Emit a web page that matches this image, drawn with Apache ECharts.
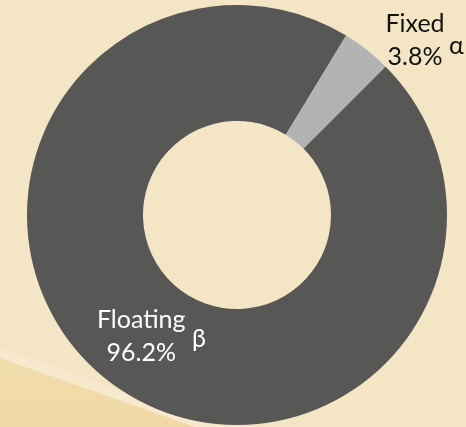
<!DOCTYPE html>
<html>
<head>
<meta charset="utf-8">
<style>
  html, body { margin: 0; padding: 0; background: #F4E6C5; }
  #chart { width: 466px; height: 427px; }
</style>
<script src="https://cdn.jsdelivr.net/npm/echarts@6/dist/echarts.min.js"></script>
</head>
<body>
<div id="chart"></div>
<script>
// Rate type split
const categories = ['Floating', 'Fixed'];
const shares = [96.2, 3.8];
const symbols = ['β', 'α'];
const sliceColors = ['#575756', '#B3B3B3'];

const chart = echarts.init(document.getElementById('chart'), null, { renderer: 'canvas' });

const FONT = 'Lato, "Open Sans", sans-serif';

const data = categories.map((name, i) => ({
  name: name,
  value: shares[i],
  itemStyle: { color: sliceColors[i] },
  label: i === 0
    ? { position: 'inside', color: '#FFFFFF' }
    : { position: 'outside', color: '#111111', distance: 10 },
  labelLine: { show: false }
}));

chart.setOption({
  backgroundColor: '#F4E6C5',
  animation: false,
  graphic: [
    {
      type: 'polygon',
      z: -11,
      shape: { points: [[0, 348], [225, 427], [195, 427], [0, 358]] },
      style: { fill: '#F6E9CD' }
    },
    {
      type: 'polygon',
      z: -10,
      shape: { points: [[0, 358], [195, 427], [0, 427]] },
      style: {
        fill: new echarts.graphic.LinearGradient(0, 0, 0, 1, [
          { offset: 0, color: '#F2DDAE' },
          { offset: 1, color: '#F0D9A4' }
        ])
      }
    },
    {
      type: 'text',
      z: 100,
      left: 449, top: 33,
      style: { text: symbols[1], font: '25px ' + FONT, fill: '#111111' }
    },
    {
      type: 'text',
      z: 100,
      left: 192, top: 326,
      style: { text: symbols[0], font: '25px ' + FONT, fill: '#FFFFFF' }
    }
  ],
  series: [{
    type: 'pie',
    z: 2,
    center: [237, 215],
    radius: [94, 210],
    startAngle: 45,
    clockwise: true,
    silent: true,
    label: {
      show: true,
      formatter: p => p.name + '\n' + p.value.toFixed(1) + '%',
      fontFamily: FONT,
      fontSize: 25,
      lineHeight: 33,
      align: 'center',
      overflow: 'none'
    },
    labelLayout: function (params) {
      if (params.dataIndex === 1) {
        return { x: 415, y: 40, align: 'center', verticalAlign: 'middle' };
      }
      return {};
    },
    data: data
  }]
});
</script>
</body>
</html>
